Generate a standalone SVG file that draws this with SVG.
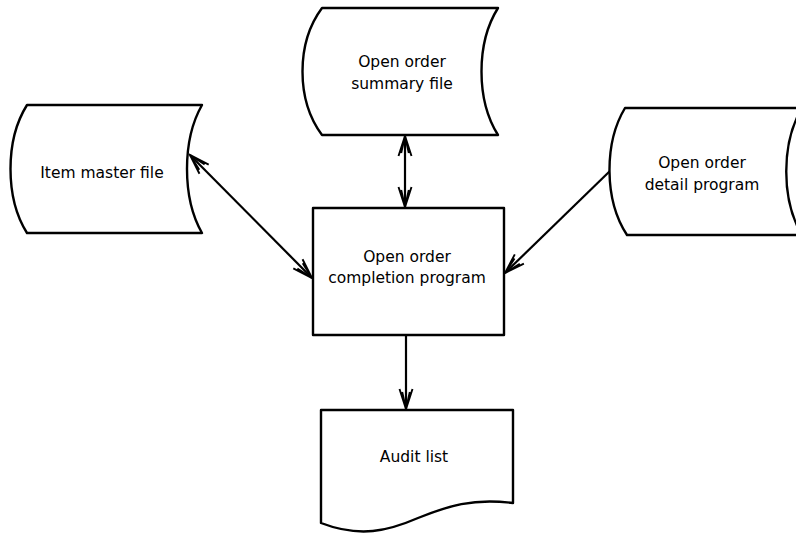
<svg xmlns="http://www.w3.org/2000/svg" width="796" height="535" viewBox="0 0 796 535">
<style>
.shape{fill:#fff;stroke:#000;stroke-width:2.4;stroke-linejoin:round}
.conn{fill:none;stroke:#000;stroke-width:2.2}
text{font-family:"DejaVu Sans","Liberation Sans",sans-serif;font-size:15.5px;fill:#000;text-anchor:middle}
</style>
<defs>
<marker id="head" markerUnits="userSpaceOnUse" viewBox="-22 -9 24 18" refX="0" refY="0" markerWidth="24" markerHeight="18" orient="auto-start-reverse">
<path d="M-20,-6.5 L0,0 L-20,6.5 M-17,-3.8 L0,0 L-17,3.8" fill="none" stroke="#000" stroke-width="1.9" stroke-linejoin="miter"/>
</marker>
</defs>
<rect width="796" height="535" fill="#fff"/>
<g id="connectors">
<line class="conn" x1="190" y1="155" x2="312" y2="278" marker-start="url(#head)" marker-end="url(#head)"/>
<line class="conn" x1="405" y1="136" x2="405" y2="207" marker-start="url(#head)" marker-end="url(#head)"/>
<line class="conn" x1="611" y1="170" x2="505" y2="273" marker-end="url(#head)"/>
<line class="conn" x1="406" y1="335" x2="406" y2="409" marker-end="url(#head)"/>
</g>
<g id="item-master-file">
<path class="shape" d="M27,105 H202 C182,140 182,198 202,233 H27 C5,198 5,140 27,105 Z"/>
<text x="102" y="178">Item master file</text>
</g>
<g id="open-order-summary-file">
<path class="shape" d="M322,8 H498 C476,43 476,100 498,135 H322 C296,100 296,43 322,8 Z"/>
<text x="402" y="67">Open order</text>
<text x="402" y="89">summary file</text>
</g>
<g id="open-order-detail-program">
<path class="shape" d="M625,108 H802 C781,143 781,200 802,235 H627 C604,200 604,143 625,108 Z"/>
<text x="702" y="168">Open order</text>
<text x="702" y="190">detail program</text>
</g>
<g id="open-order-completion-program">
<rect class="shape" x="313" y="208" width="191" height="127"/>
<text x="407" y="262">Open order</text>
<text x="407" y="283">completion program</text>
</g>
<g id="audit-list">
<path class="shape" d="M321,410 H513 V503 C472,498 448,506 418,518 C388,531 360,538 321,523 Z"/>
<text x="414" y="462">Audit list</text>
</g>
</svg>
